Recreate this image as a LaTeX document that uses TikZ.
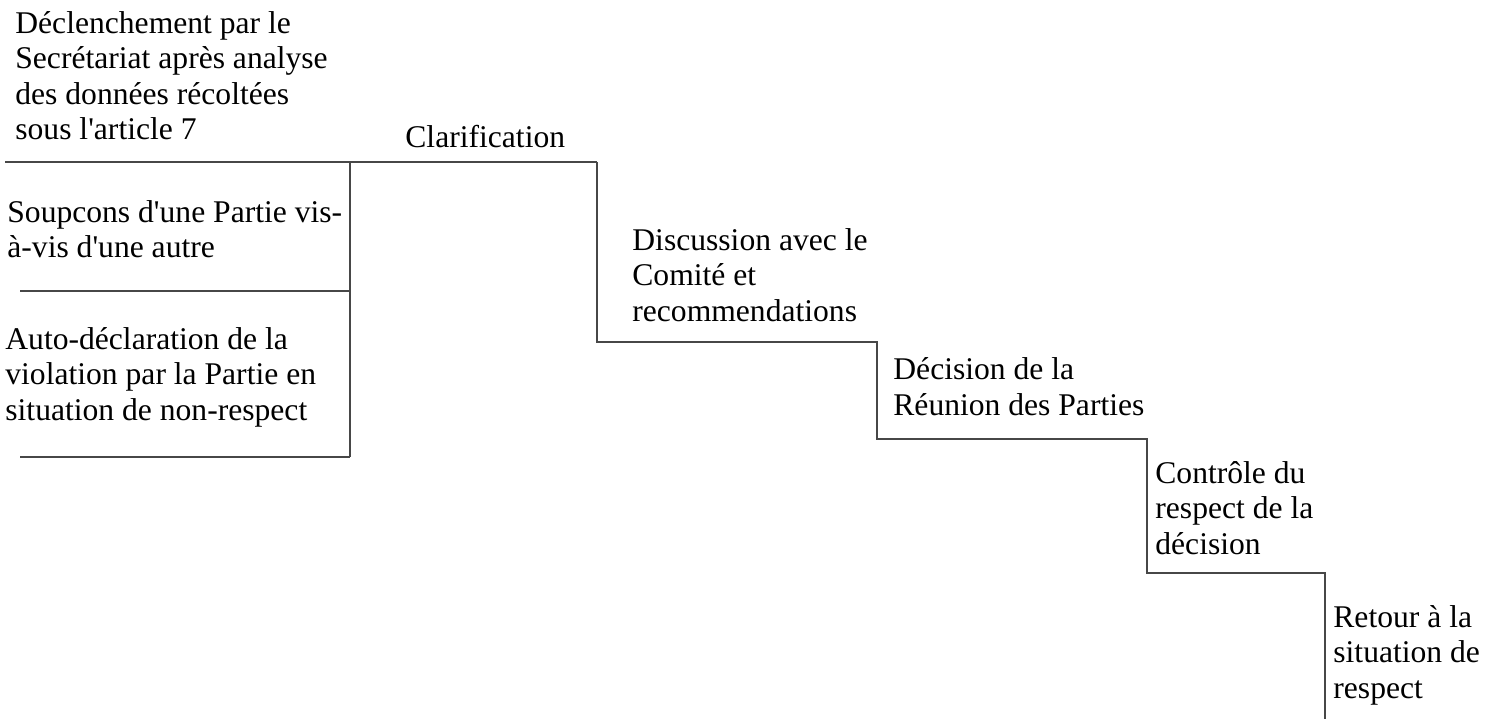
\documentclass[tikz,border=0pt]{standalone}
\usepackage{fontspec}
\setmainfont{Liberation Serif}[Ligatures=TeXOff]
\begin{document}
\begin{tikzpicture}[x=0.5pt,y=-0.5pt,
  lbl/.style={anchor=base west, inner sep=0pt, align=left,
    font=\fontsize{15.8}{17.75}\selectfont},
  rule/.style={draw=black!72, line width=0.65pt}]
\useasboundingbox (0,0) rectangle (1499,719);

% corners of the staircase and of the three entry boxes
\coordinate (a0) at (5,162);
\coordinate (a1) at (350,162);
\coordinate (a2) at (597,162);
\coordinate (b1) at (20,291);
\coordinate (b2) at (350,291);
\coordinate (c1) at (20,457);
\coordinate (c2) at (350,457);
\coordinate (s1) at (597,342);
\coordinate (s2) at (877,342);
\coordinate (s3) at (877,439);
\coordinate (s4) at (1147,439);
\coordinate (s5) at (1147,573);
\coordinate (s6) at (1325,573);
\coordinate (s7) at (1325,719);

% labels (anchored at the baseline of their last line)
\node[lbl] (t1) at (15,139.5) {Déclenchement par le\\Secrétariat après analyse\\des données récoltées\\sous l'article 7};
\node[lbl] (t2) at (405,147) {Clarification};
\node[lbl] (t3) at (7,257.5) {Soupcons d'une Partie vis-\\à-vis d'une autre};
\node[lbl] (t4) at (5,420) {Auto-déclaration de la\\violation par la Partie en\\situation de non-respect};
\node[lbl] (t5) at (632,321) {Discussion avec le\\Comité et\\recommendations};
\node[lbl] (t6) at (893,415) {Décision de la\\Réunion des Parties};
\node[lbl] (t7) at (1155,554) {Contrôle du\\respect de la\\décision};
\node[lbl] (t8) at (1333,698) {Retour à la\\situation de\\respect};

% entry boxes
\draw[rule] (a0) -- (a2);
\draw[rule] (a1) -- (c2);
\draw[rule] (b1) -- (b2);
\draw[rule] (c1) -- (c2);
% staircase
\draw[rule] (a2) -- (s1) -- (s2) -- (s3) -- (s4) -- (s5) -- (s6) -- (s7);
\end{tikzpicture}
\end{document}
